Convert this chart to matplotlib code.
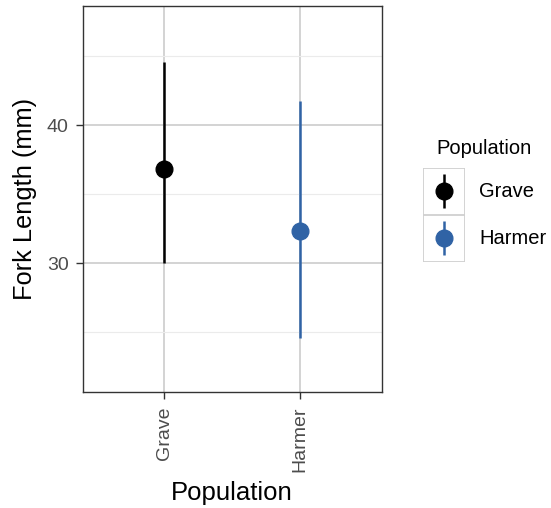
import matplotlib
matplotlib.use('Agg')
import matplotlib.pyplot as plt
from matplotlib.patches import Rectangle

populations = ['Grave', 'Harmer']
means = [36.82, 32.34]
lower = [30.0, 24.62]
upper = [44.58, 41.74]
colors = ['#000000', '#3063A5']

plt.rcParams['font.family'] = ['Liberation Sans', 'DejaVu Sans']

fig = plt.figure(figsize=(5.51, 5.08), dpi=100)
ax = fig.add_axes([0.150, 0.2277, 0.543, 0.760])

x = list(range(1, len(populations) + 1))
for xi, m, lo, hi, c in zip(x, means, lower, upper, colors):
    ax.vlines(xi, lo, hi, color=c, lw=1.8, zorder=3)
    ax.plot(xi, m, 'o', color=c, ms=12, zorder=4)

ax.set_xlim(0.4, 2.6)
ax.set_ylim(20.67, 48.6)
ax.set_yticks([30, 40])
ax.set_yticks([25, 35, 45], minor=True)
ax.set_xticks(x)
ax.set_xticklabels(populations, rotation=90)
ax.grid(True, which='major', color='#CCCCCC', lw=1.2, zorder=0)
ax.grid(True, which='minor', axis='y', color='#EBEBEB', lw=0.8, zorder=0)
ax.set_axisbelow(True)
ax.tick_params(which='major', colors='#333333', labelcolor='#4D4D4D', labelsize=14, length=5, width=1, pad=5)
ax.tick_params(which='minor', length=0)
for s in ax.spines.values():
    s.set_color('#333333')
    s.set_linewidth(1)
ax.set_xlabel('Population', fontsize=18.5)
ax.set_ylabel('Fork Length (mm)', fontsize=18.3)
ax.xaxis.set_label_coords(0.5, (392.3 - 493) / 386.3)
ax.xaxis.label.set_va('center')
ax.yaxis.set_label_coords((25 - 82.7) / 299, 0.5)
ax.yaxis.label.set_va('center')

# legend drawn by hand to look like ggplot pointrange keys
fig.text(436.5 / 551, 1 - 149 / 508, 'Population', fontsize=14.5, va='center', ha='left')
key_w, key_h = 43, 47.3
for i, (lab, c) in enumerate(zip(populations, colors)):
    top = 167.5 + i * key_h
    lax = fig.add_axes([422.5 / 551, 1 - (top + key_h) / 508, key_w / 551, key_h / 508])
    lax.set_xlim(0, 1)
    lax.set_ylim(0, 1)
    lax.axis('off')
    lax.add_patch(Rectangle((0, 0), 1, 1, facecolor='white', edgecolor='#D0D0D0', lw=1.3))
    lax.vlines(0.5, 0.14, 0.86, color=c, lw=1.8)
    lax.plot(0.5, 0.5, 'o', color=c, ms=12)
    fig.text(479 / 551, 1 - (top + key_h / 2) / 508, lab, fontsize=14.5, va='center', ha='left')

fig.savefig('out.png', dpi=100)
